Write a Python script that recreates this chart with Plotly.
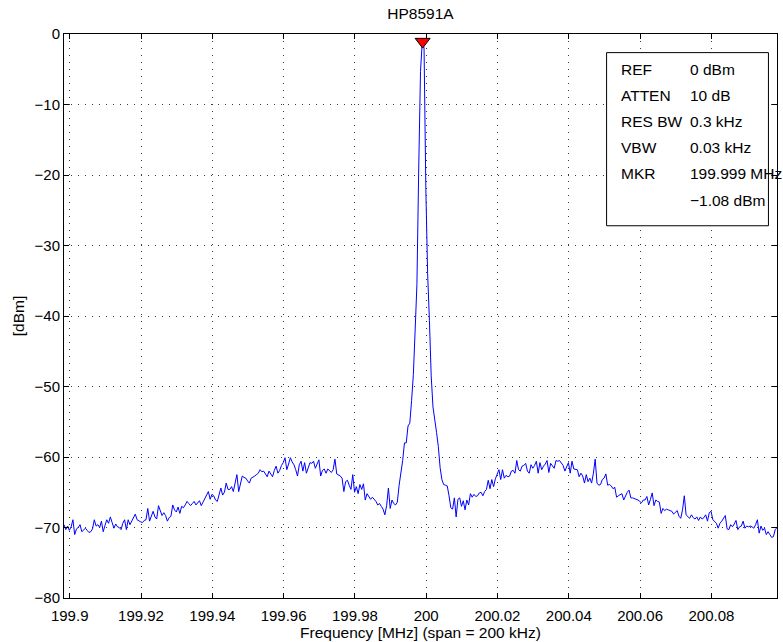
import numpy as np
import plotly.graph_objects as go

# Instrument settings for the HP8591A sweep
center_mhz = 199.9984
span_mhz = 0.2
n_points = 401

# Measured trace level in dBm, one value per sweep point (401 points)
trace_dbm = [
    -69.6, -70.3, -69.8, -70.4, -69.9, -68.9, -71.0, -70.2, -70.0, -69.6,
    -70.6, -70.3, -70.1, -70.4, -70.7, -70.6, -70.2, -68.9, -69.8, -69.6,
    -70.0, -69.1, -70.6, -69.7, -68.9, -69.4, -68.5, -69.3, -70.1, -69.5,
    -69.9, -70.0, -70.3, -69.4, -68.9, -70.3, -68.9, -69.6, -69.1, -68.7,
    -68.1, -68.9, -69.1, -69.2, -69.3, -69.0, -68.9, -67.3, -69.1, -68.4,
    -67.7, -68.5, -68.8, -66.9, -67.6, -68.3, -67.9, -68.3, -69.1, -68.6,
    -68.4, -66.8, -67.5, -67.8, -67.1, -68.0, -67.0, -67.2, -66.8, -66.3,
    -66.6, -66.9, -66.6, -66.3, -66.8, -66.5, -66.2, -66.9, -66.4, -65.7,
    -65.3, -64.9, -66.0, -65.3, -65.5, -66.1, -66.3, -65.2, -64.4, -65.4,
    -65.0, -63.7, -64.6, -64.6, -64.2, -64.9, -63.9, -62.5, -64.9, -63.8,
    -62.7, -62.9, -63.0, -63.4, -63.7, -63.0, -62.9, -62.7, -62.5, -62.3,
    -61.8, -62.1, -62.0, -62.4, -62.8, -62.0, -62.4, -62.8, -61.9, -61.3,
    -62.3, -61.9, -61.2, -60.8, -60.1, -61.8, -61.0, -60.1, -60.7, -61.1,
    -61.8, -62.7, -61.1, -60.6, -62.0, -60.8, -62.3, -61.5, -60.8, -60.9,
    -60.6, -61.6, -61.0, -60.4, -62.7, -61.9, -61.7, -62.3, -61.7, -62.0,
    -62.2, -61.8, -60.3, -62.4, -62.5, -62.7, -63.0, -64.9, -63.5, -63.3,
    -64.0, -64.6, -62.5, -65.0, -64.2, -65.2, -63.9, -64.6, -63.8, -66.1,
    -65.2, -65.6, -66.0, -65.7, -66.0, -66.3, -66.8, -66.6, -67.0, -67.4,
    -68.2, -66.9, -64.4, -67.3, -66.1, -66.6, -66.8, -66.4, -64.0, -62.5,
    -60.5, -58.0, -58.0, -55.6, -55.2, -52.0, -48.3, -42.0, -35.5, -19.0,
    -5.3, -1.08, -2.0, -22.0, -34.0, -40.6, -48.5, -52.9, -54.5, -56.5,
    -58.5, -61.5, -63.2, -63.9, -64.0, -64.1, -65.5, -67.2, -67.4, -65.8,
    -68.5, -66.0, -65.8, -67.0, -66.2, -67.5, -66.1, -66.8, -65.2, -65.7,
    -65.3, -65.6, -65.5, -65.1, -65.0, -65.5, -64.9, -64.6, -63.3, -64.5,
    -63.2, -64.2, -63.1, -62.3, -61.8, -63.2, -61.8, -63.0, -62.6, -62.8,
    -62.7, -62.0, -61.9, -62.3, -60.5, -61.8, -62.0, -61.3, -61.2, -60.9,
    -62.0, -62.3, -61.1, -61.6, -61.2, -60.6, -62.3, -60.8, -61.8, -61.3,
    -61.0, -60.5, -62.2, -60.9, -61.3, -61.6, -60.5, -60.6, -60.5, -60.9,
    -61.2, -62.0, -61.3, -60.8, -62.3, -60.6, -61.7, -61.7, -61.8, -62.8,
    -62.3, -62.7, -63.7, -62.5, -63.5, -63.0, -63.7, -62.3, -60.3, -63.7,
    -64.0, -63.9, -63.2, -63.0, -62.4, -64.0, -63.9, -64.1, -64.5, -64.3,
    -65.7, -65.5, -65.3, -65.2, -66.1, -65.4, -65.0, -64.7, -65.8, -65.8,
    -65.9, -65.9, -66.1, -66.3, -66.5, -66.1, -66.1, -65.6, -66.8, -66.0,
    -65.1, -66.9, -66.1, -66.3, -66.4, -68.0, -67.3, -67.6, -67.4, -67.5,
    -67.6, -67.7, -68.1, -67.8, -67.6, -68.4, -68.7, -67.5, -65.5, -68.2,
    -68.4, -68.7, -68.2, -68.6, -68.8, -68.5, -69.0, -68.5, -68.8, -68.6,
    -68.2, -69.1, -67.9, -67.7, -68.9, -69.1, -69.4, -70.1, -69.4, -69.1,
    -68.7, -68.3, -70.2, -70.3, -69.6, -69.9, -69.5, -69.0, -70.3, -69.9,
    -69.8, -69.1, -70.1, -69.8, -69.9, -69.8, -69.9, -70.1, -69.6, -68.9,
    -70.8, -69.8, -70.4, -70.1, -71.0, -70.6, -71.0, -71.4, -71.3, -70.3,
    -70.0,
]

# Marker readout
marker_freq_mhz = 199.999
marker_level_dbm = -1.08

# Axis ticks
x_tick_vals = [199.9, 199.92, 199.94, 199.96, 199.98, 200.0, 200.02, 200.04, 200.06, 200.08]
x_tick_text = ["199.9", "199.92", "199.94", "199.96", "199.98", "200",
               "200.02", "200.04", "200.06", "200.08"]
y_tick_vals = [0, -10, -20, -30, -40, -50, -60, -70, -80]

# Settings panel rows: (label, value)
panel_labels = ["REF", "ATTEN", "RES BW", "VBW", "MKR", ""]
panel_values = ["0 dBm", "10 dB", "0.3 kHz", "0.03 kHz", "199.999 MHz", "\u22121.08 dBm"]

start = center_mhz - span_mhz / 2
stop = center_mhz + span_mhz / 2
freq_mhz = np.linspace(start, stop, n_points)

FONT = "Liberation Sans, Arial, Helvetica, sans-serif"

fig = go.Figure()
fig.add_trace(go.Scatter(
    x=freq_mhz, y=trace_dbm, mode="lines",
    line=dict(color="#0000ff", width=1),
    showlegend=False, hoverinfo="x+y",
))
fig.add_trace(go.Scatter(
    x=[marker_freq_mhz], y=[marker_level_dbm], mode="markers",
    marker=dict(symbol="triangle-down", size=13, color="#ff0000",
                line=dict(color="#000000", width=1)),
    showlegend=False, cliponaxis=False,
))

grid_style = dict(showgrid=True, gridcolor="#3a3a3a", gridwidth=1, griddash="1px,6px")
axis_style = dict(showline=True, linecolor="black", linewidth=1, mirror="ticks",
                  ticks="inside", ticklen=5, tickcolor="black", zeroline=False,
                  tickfont=dict(family=FONT, size=15, color="black"))

fig.update_xaxes(range=[start, stop], tickvals=x_tick_vals, ticktext=x_tick_text,
                 ticklabelstandoff=4,
                 title=dict(text="Frequency [MHz] (span = 200 kHz)", standoff=0,
                            font=dict(family=FONT, size=15.5, color="black")),
                 **grid_style, **axis_style)
fig.update_yaxes(range=[-80, 0], tickvals=y_tick_vals,
                 title=dict(text="[dBm]", standoff=6,
                            font=dict(family=FONT, size=15.5, color="black")),
                 **grid_style, **axis_style)

# Settings panel box
fig.add_shape(type="rect", xref="paper", yref="paper",
              x0=0.761, x1=0.988, y0=0.660, y1=0.967,
              line=dict(color="black", width=1), fillcolor="white", layer="above")

row_px = [70, 95.7, 121.7, 147.3, 173.3, 200]
for lab, val, py in zip(panel_labels, panel_values, row_px):
    yp = 1 - (py - 34) / 564
    if lab:
        fig.add_annotation(x=0.779, y=yp, xref="paper", yref="paper", text=lab,
                           showarrow=False, xanchor="left", yanchor="middle",
                           font=dict(family=FONT, size=15.5, color="black"))
    fig.add_annotation(x=0.8756, y=yp, xref="paper", yref="paper", text=val,
                       showarrow=False, xanchor="left", yanchor="middle",
                       font=dict(family=FONT, size=15.5, color="black"))

fig.update_layout(
    width=783, height=642,
    margin=dict(l=64, r=6, t=34, b=44, autoexpand=False),
    paper_bgcolor="white", plot_bgcolor="white",
    title=dict(text="HP8591A", x=0.5, xref="paper", y=1 - 14 / 642, yref="container",
               xanchor="center", yanchor="middle",
               font=dict(family=FONT, size=15.5, color="black")),
    font=dict(family=FONT, color="black"),
)

fig.write_html("out.html")
